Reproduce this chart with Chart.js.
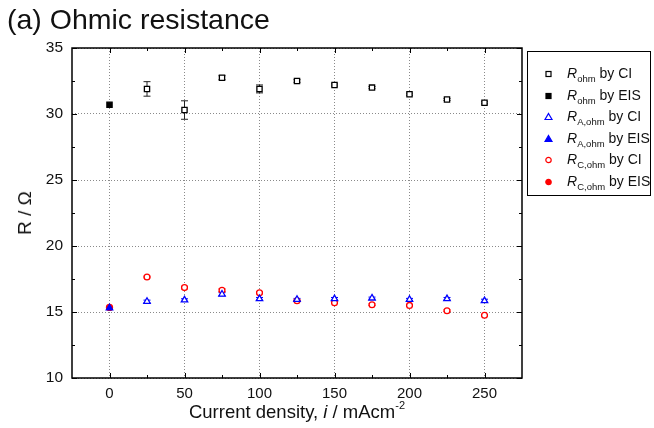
<!DOCTYPE html>
<html><head><meta charset="utf-8">
<script src="https://cdn.jsdelivr.net/npm/chart.js@4/dist/chart.umd.min.js"></script>
<style>
body{margin:0;background:#fff;font-family:"Liberation Sans",Arial,Helvetica,sans-serif;color:#111}
#wrap{position:relative;width:654px;height:428px;overflow:hidden}
#c{position:absolute;left:0;top:0}
#title{position:absolute;left:7px;top:3px;font-size:28.5px;white-space:nowrap}
#xt{position:absolute;left:0;width:594px;text-align:center;top:401px;font-size:18.5px;white-space:nowrap}
#xt sup{font-size:11px;position:relative;top:-2px}
#yt{position:absolute;left:25px;top:213px;font-size:19px;white-space:nowrap;transform:translate(-50%,-50%) rotate(-90deg)}
#legend{position:absolute;left:527px;top:51px;width:124px;height:145px;border:1px solid #000;box-sizing:border-box}
.row{position:absolute;left:0;height:20px;font-size:14px;white-space:nowrap}
.row svg{position:absolute;left:16px;top:4px}
.row span.t{position:absolute;left:39px;top:1px}
.row sub{font-size:9.5px;vertical-align:-4px}
</style></head><body>
<div id="wrap">
<canvas id="c" width="654" height="428"></canvas>
<div id="title">(a) Ohmic resistance</div>
<div id="xt">Current density, <i>i</i> / mAcm<sup>-2</sup></div>
<div id="yt">R / Ω</div>
<div id="legend"></div>
</div>
<script>
// ---- data ----
const xCI = [25, 50, 75, 100, 125, 150, 175, 200, 225, 250];
const xEIS = [0];
const rOhmCI = [31.9, 30.3, 32.75, 31.9, 32.5, 32.2, 32.0, 31.5, 31.1, 30.85];
const rOhmCIErr = [0.55, 0.7, 0.15, 0.3, 0.1, 0.08, 0.08, 0.08, 0.08, 0.08];
const rOhmEIS = [30.7];
const rACI = [15.8, 15.9, 16.35, 16.0, 15.95, 16.0, 16.05, 15.95, 16.0, 15.85];
const rACIErr = [0.1, 0.1, 0.12, 0.1, 0.08, 0.1, 0.08, 0.08, 0.1, 0.12];
const rAEIS = [15.3];
const rCCI = [17.65, 16.85, 16.65, 16.45, 15.85, 15.7, 15.55, 15.5, 15.1, 14.75];
const rCCIErr = [0.06, 0.1, 0.1, 0.08, 0.06, 0.06, 0.06, 0.06, 0.06, 0.06];
const rCEIS = [15.35];
const xTicks = [0, 50, 100, 150, 200, 250];
const yTicks = [10, 15, 20, 25, 30, 35];

const BLK = '#000000', BLU = '#0000ff', RED = '#ff0000';
const pts = (xs, ys) => xs.map((x, i) => ({x: x, y: ys[i]}));

const series = [
  {label: 'ohm', name: 'CI', data: pts(xCI, rOhmCI), err: rOhmCIErr, color: BLK, style: 'rect', fill: false, r: 3.7},
  {label: 'ohm', name: 'EIS', data: pts(xEIS, rOhmEIS), err: null, color: BLK, style: 'rect', fill: true, r: 3.7},
  {label: 'A,ohm', name: 'CI', data: pts(xCI, rACI), err: rACIErr, color: BLU, style: 'triangle', fill: false, r: 3.7},
  {label: 'A,ohm', name: 'EIS', data: pts(xEIS, rAEIS), err: null, color: BLU, style: 'triangle', fill: true, r: 3.7},
  {label: 'C,ohm', name: 'CI', data: pts(xCI, rCCI), err: rCCIErr, color: RED, style: 'circle', fill: false, r: 2.9},
  {label: 'C,ohm', name: 'EIS', data: pts(xEIS, rCEIS), err: null, color: RED, style: 'circle', fill: true, r: 3}
];

const errPlugin = {
  id: 'errbars',
  beforeDatasetsDraw(chart) {
    const ctx = chart.ctx, xs = chart.scales.x, ys = chart.scales.y;
    ctx.save();
    series.forEach(s => {
      if (!s.err) return;
      ctx.strokeStyle = s.color === BLK ? '#222' : s.color;
      ctx.lineWidth = 1;
      s.data.forEach((p, i) => {
        const px = xs.getPixelForValue(p.x);
        const yt = ys.getPixelForValue(p.y + s.err[i]);
        const yb = ys.getPixelForValue(p.y - s.err[i]);
        ctx.beginPath();
        ctx.moveTo(px, yt); ctx.lineTo(px, yb);
        ctx.moveTo(px - 3.5, yt); ctx.lineTo(px + 3.5, yt);
        ctx.moveTo(px - 3.5, yb); ctx.lineTo(px + 3.5, yb);
        ctx.stroke();
      });
    });
    ctx.restore();
  },
  afterDraw(chart) {
    const ctx = chart.ctx, a = chart.chartArea, xs = chart.scales.x, ys = chart.scales.y;
    ctx.save();
    ctx.strokeStyle = '#000';
    ctx.lineWidth = 1;
    ctx.beginPath();
    for (let v = 0; v <= 250; v += 25) {
      const px = Math.round(xs.getPixelForValue(v)) + 0.5;
      const L = v % 50 === 0 ? 5 : 3;
      ctx.moveTo(px, a.bottom); ctx.lineTo(px, a.bottom - L);
      ctx.moveTo(px, a.top); ctx.lineTo(px, a.top + L);
    }
    for (let v = 10; v <= 35; v += 2.5) {
      const py = Math.round(ys.getPixelForValue(v)) + 0.5;
      const L = v % 5 === 0 ? 5 : 3;
      ctx.moveTo(a.left, py); ctx.lineTo(a.left + L, py);
      ctx.moveTo(a.right, py); ctx.lineTo(a.right - L, py);
    }
    ctx.stroke();
    ctx.lineWidth = 1.5;
    ctx.strokeRect(a.left, a.top, a.right - a.left, a.bottom - a.top);
    ctx.restore();
  }
};

new Chart(document.getElementById('c'), {
  type: 'scatter',
  data: {
    datasets: series.map(s => ({
      label: s.label + ' ' + s.name,
      data: s.data,
      pointStyle: s.style,
      pointRadius: s.r,
      pointHoverRadius: s.r,
      pointBorderWidth: 1.3,
      borderColor: s.color,
      backgroundColor: s.fill ? s.color : '#ffffff',
      pointBackgroundColor: s.fill ? s.color : 'rgba(255,255,255,1)',
      showLine: false
    }))
  },
  options: {
    responsive: false,
    animation: false,
    layout: {padding: {left: 0, top: 48, right: 132, bottom: 0}},
    plugins: {legend: {display: false}, tooltip: {enabled: false}},
    scales: {
      x: {
        type: 'linear', min: -25, max: 275,
        afterBuildTicks: sc => { sc.ticks = xTicks.map(v => ({value: v})); },
        afterFit: sc => { sc.height = 50; },
        grid: {color: '#8a8a8a', lineWidth: 1, drawTicks: false},
        border: {display: false, dash: [1, 2]},
        ticks: {color: '#111', font: {family: '"Liberation Sans", Arial', size: 15}, padding: 7, maxRotation: 0}
      },
      y: {
        type: 'linear', min: 10, max: 35,
        afterBuildTicks: sc => { sc.ticks = yTicks.map(v => ({value: v})); },
        afterFit: sc => { sc.width = 72; },
        grid: {color: '#8a8a8a', lineWidth: 1, drawTicks: false},
        border: {display: false, dash: [1, 2]},
        ticks: {color: '#111', font: {family: '"Liberation Sans", Arial', size: 15.5}, padding: 9}
      }
    }
  },
  plugins: [errPlugin]
});

// ---- HTML legend with subscripts ----
function marker(s) {
  const c = s.color, f = s.fill ? c : '#fff';
  if (s.style === 'rect') return `<svg width="10" height="12"><rect x="2" y="3.5" width="5" height="5" fill="${f}" stroke="${c}" stroke-width="1.2"/></svg>`;
  if (s.style === 'triangle') return `<svg width="10" height="12"><polygon points="4.5,2.5 8,8.5 1,8.5" fill="${f}" stroke="${c}" stroke-width="1.2"/></svg>`;
  return `<svg width="10" height="12"><circle cx="4.5" cy="6" r="2.7" fill="${f}" stroke="${c}" stroke-width="1.2"/></svg>`;
}
const lg = document.getElementById('legend');
const rowTops = [12, 34, 55, 77, 98, 120];
series.forEach((s, i) => {
  const d = document.createElement('div');
  d.className = 'row';
  d.style.top = rowTops[i] + 'px';
  d.innerHTML = marker(s) + `<span class="t"><i>R</i><sub>${s.label}</sub> by ${s.name}</span>`;
  lg.appendChild(d);
});
</script>
</body></html>
